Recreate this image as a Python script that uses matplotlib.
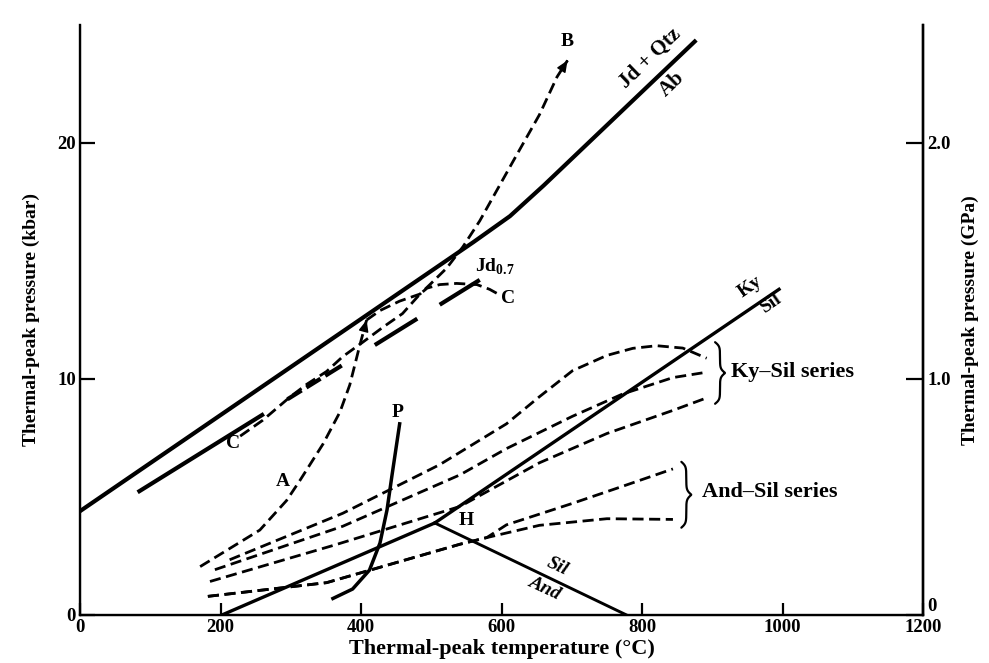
import numpy as np
import matplotlib.pyplot as plt

plt.rcParams['font.family'] = ['Liberation Serif', 'DejaVu Serif']
plt.rcParams['font.weight'] = 'bold'
plt.rcParams['axes.labelweight'] = 'bold'
plt.rcParams['mathtext.fontset'] = 'custom'
plt.rcParams['mathtext.rm'] = 'Liberation Serif:bold'
plt.rcParams['mathtext.bf'] = 'Liberation Serif:bold'
plt.rcParams['lines.scale_dashes'] = False

# reaction lines (T in deg C, P in kbar)
jd_t = [0, 560, 612, 660, 875]
jd_p = [4.4, 15.8, 16.9, 18.2, 24.3]

jd07_t = [82, 569]
jd07_p = [5.2, 14.2]

kya_t = [202, 505]
kya_p = [0, 3.9]
kys_t = [505, 995]
kys_p = [3.9, 13.8]
sa_t = [505, 778]
sa_p = [3.9, 0]

# thermal-peak curves
a_t = [171, 256, 294, 313, 346, 370, 384, 398, 408]
a_p = [2.05, 3.6, 4.85, 5.7, 7.25, 8.6, 9.75, 11.4, 12.5]

b_t = [408, 427, 455, 484, 498, 522, 545, 569, 616, 654, 679, 694]
b_p = [12.5, 12.9, 13.3, 13.6, 14.0, 14.7, 15.6, 16.7, 19.2, 21.2, 22.8, 23.5]

c_t = [228, 260, 299, 323, 351, 374, 403, 431, 459, 484, 494, 512, 536, 565, 583, 597]
c_p = [7.58, 8.25, 9.24, 9.78, 10.32, 10.95, 11.57, 12.19, 12.77, 13.6, 13.85,
       14.0, 14.05, 14.0, 13.8, 13.57]

p_t = [360, 388, 412, 427, 437, 444, 451, 455]
p_p = [0.7, 1.1, 1.9, 3.05, 4.45, 5.9, 7.3, 8.1]

# Ky-Sil series
ks1_t = [213, 374, 512, 607, 654, 701, 750, 787, 821, 858, 892]
ks1_p = [2.34, 4.31, 6.37, 8.1, 9.25, 10.35, 11.0, 11.3, 11.41, 11.31, 10.88]
ks2_t = [192, 374, 541, 607, 701, 772, 844, 886]
ks2_p = [1.92, 3.76, 5.94, 7.05, 8.42, 9.36, 10.06, 10.26]
ks3_t = [185, 363, 541, 654, 750, 844, 892]
ks3_p = [1.42, 2.97, 4.6, 6.45, 7.69, 8.67, 9.2]

# And-Sil series
as1_t = [182, 351, 541, 579, 607, 701, 772, 844]
as1_p = [0.79, 1.37, 3.0, 3.28, 3.82, 4.73, 5.45, 6.19]
as2_t = [182, 351, 541, 579, 654, 750, 844]
as2_p = [0.79, 1.37, 3.0, 3.28, 3.8, 4.08, 4.05]

x_ticks = [0, 200, 400, 600, 800, 1000, 1200]
y_ticks = [0, 10, 20]
gpa_ticks = [0, 1.0, 2.0]
gpa_labels = ['0', '1.0', '2.0']

dash = (0, (8, 4))
jd07_dash = (0, (107, 20, 12, 4, 12, 4, 14, 28, 36, 19, 41, 60))


def arrow_head(ax, t, p):
    x1, y1 = t[-1], p[-1]
    x0 = x1 - 0.02 * (t[-1] - t[-2])
    y0 = y1 - 0.02 * (p[-1] - p[-2])
    ax.annotate('', xy=(x1, y1), xytext=(x0, y0),
                arrowprops=dict(arrowstyle='-|>,head_length=0.7,head_width=0.3',
                                color='k', lw=1, shrinkA=0, shrinkB=0))


def brace(ax, x, y0, y1, w):
    n = 200
    s = np.linspace(0, 1, n)
    beta = 30
    half = s[:n // 2]
    h = 1 / (1 + np.exp(-beta * (half - half[0]))) + 1 / (1 + np.exp(-beta * (half - half[-1])))
    xs = np.concatenate([h, h[::-1]])
    xs = x + w * (xs - xs.min()) / (xs.max() - xs.min())
    ys = y0 + (y1 - y0) * s
    ax.plot(xs, ys, color='k', lw=1.6, solid_capstyle='round')


fig = plt.figure(figsize=(9.89, 6.63), dpi=100)
ax = fig.add_axes([0.0809, 0.0724, 0.8524, 0.8899])

ax.plot(jd_t, jd_p, color='k', lw=3.0)
ax.plot(jd07_t, jd07_p, color='k', lw=3.0, linestyle=jd07_dash)
ax.plot(kya_t, kya_p, color='k', lw=2.4)
ax.plot(kys_t, kys_p, color='k', lw=2.4)
ax.plot(sa_t, sa_p, color='k', lw=2.1)
ax.plot(p_t, p_p, color='k', lw=2.5)

for t, p in [(a_t, a_p), (b_t, b_p), (c_t, c_p), (ks1_t, ks1_p), (ks2_t, ks2_p),
             (ks3_t, ks3_p), (as1_t, as1_p), (as2_t, as2_p)]:
    ax.plot(t, p, color='k', lw=2.0, linestyle=dash)

arrow_head(ax, a_t, a_p)
arrow_head(ax, b_t, b_p)

# braces beside the series ends
ks_top = max(max(ks1_p), max(ks2_p), max(ks3_p))
ks_bot = min(ks1_p[-1], ks2_p[-1], ks3_p[-1])
brace(ax, max(ks1_t[-1], ks2_t[-1], ks3_t[-1]) + 12, ks_bot - 0.25, ks_top + 0.15, 14)
as_top = max(as1_p[-1], as2_p[-1])
as_bot = min(as1_p[-1], as2_p[-1])
brace(ax, max(as1_t[-1], as2_t[-1]) + 12, as_bot - 0.35, as_top + 0.3, 14)

fs = 14
ax.text(811, 23.6, 'Jd + Qtz', fontsize=15, rotation=44, ha='center', va='center')
ax.text(843, 22.5, 'Ab', fontsize=15, rotation=44, ha='center', va='center')
ax.text(694, 24.3, 'B', fontsize=fs, ha='center', va='center')
ax.text(218, 7.25, 'C', fontsize=fs, ha='center', va='center')
ax.text(609, 13.4, 'C', fontsize=fs, ha='center', va='center')
ax.text(590, 14.75, r'Jd$_{0.7}$', fontsize=fs, ha='center', va='center')
ax.text(289, 5.65, 'A', fontsize=fs, ha='center', va='center')
ax.text(452, 8.6, 'P', fontsize=fs, ha='center', va='center')
ax.text(550, 4.0, 'H', fontsize=fs, ha='center', va='center')
ax.text(953, 13.9, 'Ky', fontsize=fs, rotation=35, ha='center', va='center')
ax.text(984, 13.2, 'Sil', fontsize=fs, rotation=35, ha='center', va='center')
ax.text(680, 2.05, 'Sil', fontsize=fs, rotation=-25, style='italic', ha='center', va='center')
ax.text(661, 1.15, 'And', fontsize=fs, rotation=-25, style='italic', ha='center', va='center')
ax.text(927, 10.3, 'Ky\u2013Sil series', fontsize=16, ha='left', va='center')
ax.text(885, 5.2, 'And\u2013Sil series', fontsize=16, ha='left', va='center')

ax.set_xlim(0, 1200)
ax.set_ylim(0, 25)
ax.set_xticks(x_ticks)
ax.set_xticklabels([str(v) for v in x_ticks])
ax.set_yticks(y_ticks)
ax.set_yticklabels([str(v) for v in y_ticks])
ax.tick_params(axis='x', direction='in', length=9, width=1.6, labelsize=13.5, pad=3)
ax.tick_params(axis='y', direction='in', length=11, width=1.6, labelsize=13.5, pad=3)
for side in ['left', 'bottom', 'right']:
    ax.spines[side].set_linewidth(1.7)
ax.spines['top'].set_visible(False)
ax.set_xlabel('Thermal-peak temperature (\u00b0C)', fontsize=16, labelpad=2)
ax.set_ylabel('Thermal-peak pressure (kbar)', fontsize=14, labelpad=12)

ax2 = ax.twinx()
ax2.set_ylim(0, 2.5)
ax2.set_yticks(gpa_ticks)
ax2.set_yticklabels(gpa_labels)
ax2.tick_params(axis='y', direction='in', length=12, width=1.6, labelsize=13.5, pad=3)
ax2.get_yticklabels()[0].set_verticalalignment('bottom')
ax2.spines['top'].set_visible(False)
ax2.spines['right'].set_linewidth(1.7)
ax2.set_ylabel('Thermal-peak pressure (GPa)', fontsize=14, rotation=90, labelpad=8)

fig.savefig('out.png', dpi=100)
